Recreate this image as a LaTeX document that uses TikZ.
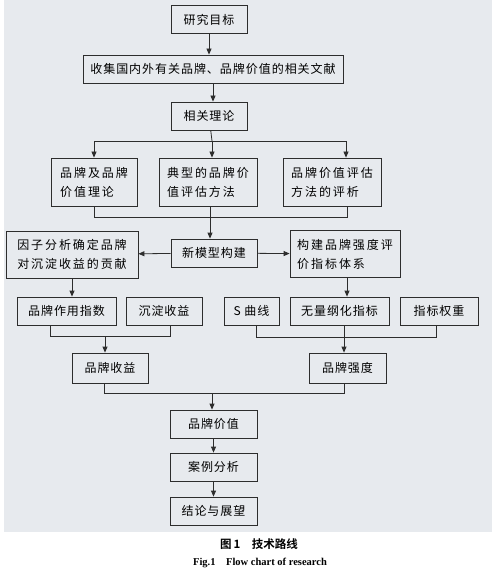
\documentclass[tikz,border=0pt]{standalone}
\usepackage{fontspec}
\setmainfont{Liberation Serif}
\newfontfamily\cjk[LetterSpace=8]{Noto Sans CJK SC}
\newfontfamily\cjkwide[LetterSpace=16]{Noto Sans CJK SC}
\newfontfamily\cjkbold[BoldFont={Noto Sans CJK SC Bold}]{Noto Sans CJK SC}
\usepackage{tikz}
\usetikzlibrary{arrows.meta,positioning,calc}
\definecolor{paper}{RGB}{231,234,238}
\definecolor{ink}{RGB}{45,45,45}

\begin{document}
\begin{tikzpicture}[x=1pt,y=-1pt,
  stage/.style={draw=ink,line width=0.8pt,fill=paper,minimum height=28pt,
                inner sep=3pt,font=\cjk\fontsize{12}{19}\selectfont},
  twoline/.style={stage,minimum height=48pt,align=left,
                  font=\cjkwide\fontsize{12}{19}\selectfont},
  link/.style={draw=ink,line width=0.8pt},
  flow/.style={link,-{Triangle[width=5pt,length=6pt]}},
  caption/.style={font=\bfseries\fontsize{10.5}{12}\selectfont}
]
\useasboundingbox (0,0) rectangle (492,577);
\fill[paper] (4,0) rectangle (492,532);

% Top chain
\node[stage,minimum width=76pt] (goal) at (209,19.5) {研究目标};
\node[stage,minimum width=260pt] (lit) at (213,69) {收集国内外有关品牌、品牌价值的相关文献};
\node[stage,minimum width=76pt] (theory) at (209,116) {相关理论};

% Three theory boxes
\node[twoline,minimum width=86pt] (brand) at (94,182) {品牌及品牌\\价值理论};
\node[twoline,minimum width=98pt] (typical) at (208,182) {典型的品牌价\\值评估方法};
\node[twoline,minimum width=98pt] (review) at (332,182) {品牌价值评估\\方法的评析};

% Model row
\node[stage,minimum width=86pt] (model) at (214,253) {新模型构建};
\node[twoline,minimum width=132pt,minimum height=47pt] (factor) at (72,254.5) {因子分析确定品牌\\对沉淀收益的贡献};
\node[twoline,minimum width=110pt,minimum height=47pt] (system) at (345,254) {构建品牌强度评\\价指标体系};

% Index row
\node[stage,minimum width=99pt] (effect) at (66.5,311) {品牌作用指数};
\node[stage,minimum width=76pt] (sediment) at (164,311) {沉淀收益};
\node[stage,minimum width=55pt] (scurve) at (251.5,311) {S 曲线};
\node[stage,minimum width=99pt] (dimless) at (339.5,311) {无量纲化指标};
\node[stage,minimum width=78pt] (weight) at (439,311) {指标权重};

% Earnings and strength
\node[stage,minimum width=76pt,minimum height=30pt] (earn) at (110,368) {品牌收益};
\node[stage,minimum width=77pt,minimum height=30pt] (strength) at (347.5,368) {品牌强度};

% Bottom chain
\node[stage,minimum width=87pt] (value) at (213.5,424) {品牌价值};
\node[stage,minimum width=87pt] (case) at (213.5,467) {案例分析};
\node[stage,minimum width=87pt] (outlook) at (213.5,511) {结论与展望};

% Junction points
\coordinate (split) at (212,141);
\coordinate (joinA) at (210,217);
\coordinate (joinB) at (105,336);
\coordinate (joinC) at (344,337);
\coordinate (joinD) at (212,393);

% Connectors
\draw[flow] (goal) -- (goal|-lit.north);
\draw[flow] (lit) -- (lit.south|-theory.north);
\draw[link] (theory) -- (split);
\draw[flow] (split) -| (brand.north);
\draw[flow] (split) -- (split|-typical.north);
\draw[flow] (split) -| ([xshift=14pt]review.north);

\draw[link] (brand.south) |- (joinA);
\draw[link] ([xshift=15pt]review.south) |- (joinA);
\draw[link] (typical.south-|joinA) -- (joinA);
\draw[flow] (joinA) -- (joinA|-model.north);

\draw[flow] (model) -- (factor);
\draw[flow] (model) -- (system);
\draw[flow] (factor) -- (factor.south|-effect.north);
\draw[flow] ([xshift=2pt]system.south) -- ([xshift=2pt]system.south|-dimless.north);

\draw[link] ([xshift=-16pt]effect.south) |- (joinB);
\draw[link] ([xshift=6pt]sediment.south) |- (joinB);
\draw[flow] (joinB) -- (joinB|-earn.north);

\draw[link] ([xshift=5pt]scurve.south) |- (joinC);
\draw[link] ([xshift=-3pt]weight.south) |- (joinC);
\draw[link] (dimless.south-|joinC) -- (joinC);
\draw[flow] (joinC) -- (joinC|-strength.north);

\draw[link] ([xshift=-6pt]earn.south) |- (joinD);
\draw[link] ([xshift=-3.5pt]strength.south) |- (joinD);
\draw[flow] (joinD) -- (joinD|-value.north);
\draw[flow] (value) -- (case);
\draw[flow] (case) -- (outlook);

% Caption
\node[caption,font=\cjkbold\bfseries\fontsize{11.5}{13}\selectfont] (cap) at (259,544) {图\,1\quad 技术路线};
\node[caption] (capen) at (260,563) {Fig.1\quad Flow chart of research};
\end{tikzpicture}
\end{document}
